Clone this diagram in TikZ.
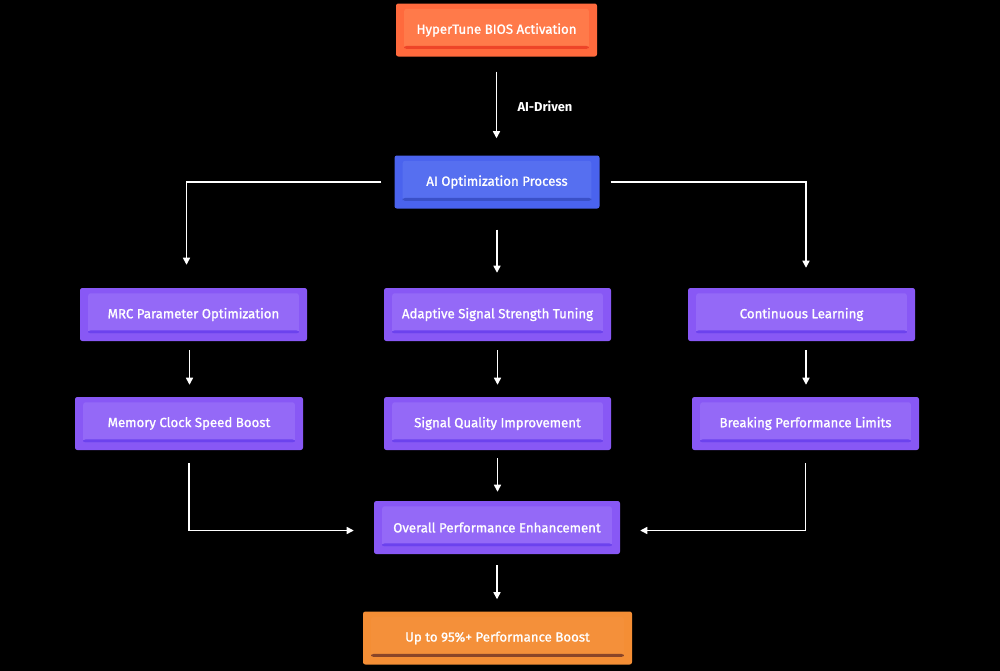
\documentclass[tikz,border=0pt]{standalone}
\usepackage{fontspec}
\setmainfont{Fira Sans}
\newfontfamily\boxfont{Fira Sans}[FakeBold=1.2]
\usetikzlibrary{arrows.meta,calc}
\definecolor{orOut}{HTML}{FF6A3D}
\definecolor{orIn}{HTML}{FF7A4A}
\definecolor{orStr}{HTML}{EE4428}
\definecolor{blOut}{HTML}{4A63EE}
\definecolor{blIn}{HTML}{566FF0}
\definecolor{blStr}{HTML}{3A50C8}
\definecolor{puOut}{HTML}{8858F5}
\definecolor{puIn}{HTML}{9469F7}
\definecolor{puStr}{HTML}{6C42EE}
\definecolor{goOut}{HTML}{F48E35}
\definecolor{goIn}{HTML}{F4903A}
\definecolor{goStr}{HTML}{8A4528}
\tikzset{
  box/.style n args={3}{rounded corners=2pt, fill=#1, minimum height=53*0.03cm,
    text=white, font=\boxfont\fontsize{11.3}{13}\selectfont, inner sep=0pt,
    path picture={
      \fill[#2] ([xshift=7pt,yshift=-4.5pt]path picture bounding box.north west)
        rectangle ([xshift=-7pt,yshift=6.5pt]path picture bounding box.south east);
      \fill[#3] ([xshift=7pt,yshift=9pt]path picture bounding box.south west)
        rectangle ([xshift=-7pt,yshift=6.5pt]path picture bounding box.south east);
    }},
  orbox/.style={box={orOut}{orIn}{orStr}},
  blbox/.style={box={blOut}{blIn}{blStr}},
  pubox/.style={box={puOut}{puIn}{puStr}},
  gobox/.style={box={goOut}{goIn}{goStr}},
  arr/.style={draw=white, line width=1.2pt, -{Triangle[width=6pt,length=6pt]}},
  lbl/.style={text=white, font=\fontsize{11}{13}\selectfont\bfseries}
}
\begin{document}
\begin{tikzpicture}[x=0.03cm,y=-0.03cm]
\fill[black] (0,0) rectangle (1000,671);
\useasboundingbox (0,0) rectangle (1000,671);
\node[orbox, minimum width=201*0.03cm] (hyper) at (496.5,30) {HyperTune BIOS Activation};
\node[blbox, minimum width=205*0.03cm] (ai) at (497,182) {AI Optimization Process};
\node[pubox, minimum width=227*0.03cm] (mrc) at (193.5,314.5) {MRC Parameter Optimization};
\node[pubox, minimum width=227*0.03cm] (ada) at (497.5,314.5) {Adaptive Signal Strength Tuning};
\node[pubox, minimum width=227*0.03cm] (cont) at (801.5,314.5) {Continuous Learning};
\node[pubox, minimum width=228*0.03cm] (mem) at (189,423.5) {Memory Clock Speed Boost};
\node[pubox, minimum width=227*0.03cm] (sig) at (497.5,423.5) {Signal Quality Improvement};
\node[pubox, minimum width=227*0.03cm] (brk) at (805.5,423.5) {Breaking Performance Limits};
\node[pubox, minimum width=246*0.03cm] (over) at (497,527.5) {Overall Performance Enhancement};
\node[gobox, minimum width=269*0.03cm] (up) at (497.5,638) {Up to 95\%+ Performance Boost};

\draw[arr, shorten <=15*0.03cm, shorten >=17*0.03cm] (hyper.south) -- (hyper.south |- ai.north)
  node[midway, right=14pt, lbl] (drv) {AI-Driven};
\draw[arr, shorten <=13*0.03cm, shorten >=23*0.03cm] (ai.west) -| ([xshift=-7*0.03cm]mrc.north);
\draw[arr, shorten <=21*0.03cm, shorten >=15*0.03cm] (ai.south) -- (ai.south |- ada.north);
\draw[arr, shorten <=11*0.03cm, shorten >=20*0.03cm] (ai.east) -| ([xshift=4.5*0.03cm]cont.north);
\draw[arr, shorten <=9*0.03cm, shorten >=12*0.03cm] ([xshift=-4*0.03cm]mrc.south) -- ([xshift=-4*0.03cm]mrc.south |- mem.north);
\draw[arr, shorten <=9*0.03cm, shorten >=12*0.03cm] (ada.south) -- (ada.south |- sig.north);
\draw[arr, shorten <=9*0.03cm, shorten >=12*0.03cm] ([xshift=4.5*0.03cm]cont.south) -- ([xshift=4.5*0.03cm]cont.south |- brk.north);
\draw[arr, shorten <=13*0.03cm, shorten >=20*0.03cm] (mem.south) |- ([yshift=-3*0.03cm]over.west);
\draw[arr, shorten <=8*0.03cm, shorten >=9*0.03cm] (sig.south) -- (sig.south |- over.north);
\draw[arr, shorten <=13*0.03cm, shorten >=20*0.03cm] (brk.south) |- ([yshift=-3*0.03cm]over.east);
\draw[arr, shorten <=11*0.03cm, shorten >=12*0.03cm] (over.south) -- (over.south |- up.north);
\end{tikzpicture}
\end{document}
